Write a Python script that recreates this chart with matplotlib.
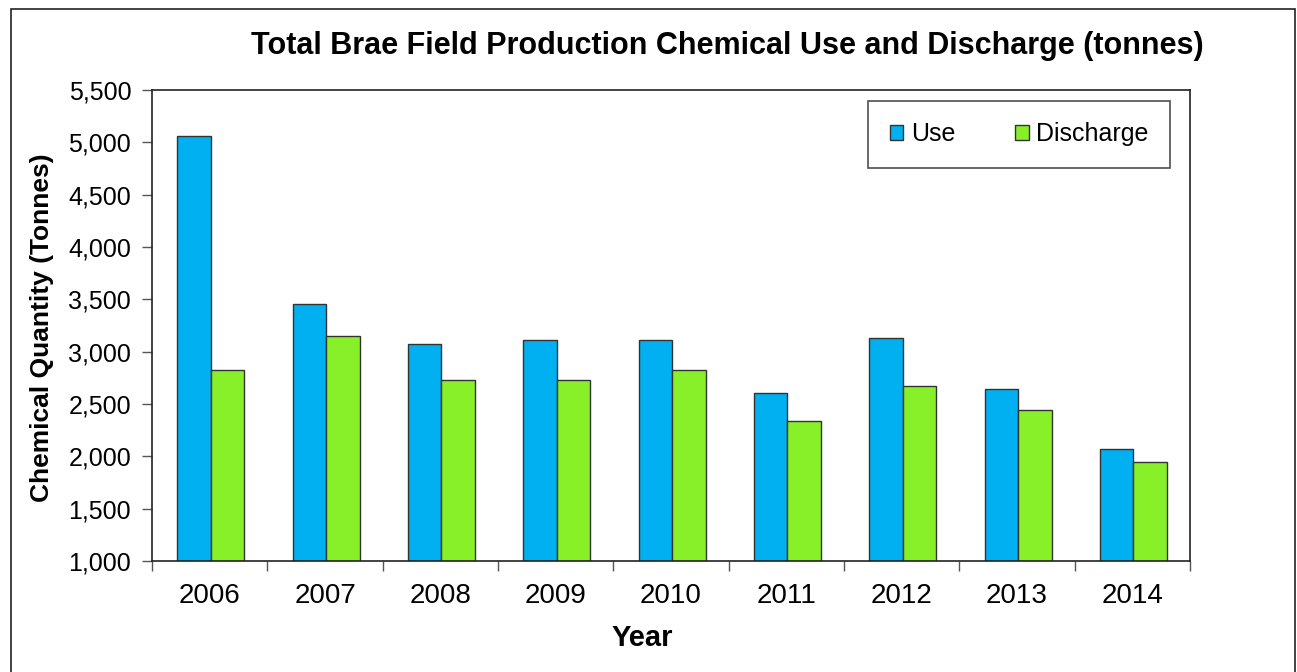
import matplotlib
matplotlib.use("Agg")
import matplotlib.pyplot as plt
import numpy as np
from matplotlib.patches import Rectangle
from matplotlib.ticker import FuncFormatter

# data
years = ['2006', '2007', '2008', '2009', '2010', '2011', '2012', '2013', '2014']
use = [5060, 3455, 3073, 3110, 3110, 2605, 3130, 2643, 2070]
discharge = [2825, 3150, 2730, 2730, 2825, 2340, 2670, 2443, 1946]

use_color = '#00B0F0'
discharge_color = '#88F028'

plt.rcParams['font.family'] = ['Liberation Sans', 'DejaVu Sans']

fig = plt.figure(figsize=(12.97, 6.72), dpi=100)
ax = fig.add_axes([152 / 1297, 1 - 561 / 672, (1190 - 152) / 1297, (561 - 90) / 672])

x = np.arange(len(years))
width = 0.29
ax.bar(x - width / 2 + 0.01, use, width, bottom=0, color=use_color,
       edgecolor='#333333', linewidth=1.0, label='Use')
ax.bar(x + width / 2 + 0.01, discharge, width, bottom=0, color=discharge_color,
       edgecolor='#333333', linewidth=1.0, label='Discharge')

ax.set_xlim(-0.5, len(years) - 0.5)
ax.set_ylim(1000, 5500)
ax.set_yticks(np.arange(1000, 5501, 500))
ax.yaxis.set_major_formatter(FuncFormatter(lambda v, p: f'{int(v):,}'))
ax.tick_params(axis='y', labelsize=18, length=7, width=1, color='#555555', pad=8)

# ticks between categories, labels at centres
ax.set_xticks(np.arange(-0.5, len(years), 1.0))
ax.set_xticklabels([])
ax.tick_params(axis='x', which='major', length=7, width=1, color='#555555')
ax.set_xticks(x, minor=True)
ax.set_xticklabels(years, minor=True)
ax.tick_params(axis='x', which='minor', length=0, labelsize=20, pad=16)

for s in ax.spines.values():
    s.set_color('#222222')
    s.set_linewidth(1.2)

ax.set_xlabel('Year', fontsize=21, fontweight='bold')
ax.xaxis.set_label_coords((642 - 152) / 1038, -(638 - 561) / 471, transform=ax.transAxes)
ax.xaxis.label.set_va('center')
ax.set_ylabel('Chemical Quantity (Tonnes)', fontsize=19, fontweight='bold',
              family=['Liberation Sans Narrow', 'Liberation Sans'])
ax.yaxis.set_label_coords(-(152 - 42) / 1038, (561 - 328) / 471, transform=ax.transAxes)
ax.yaxis.label.set_va('center')

fig.text(727 / 1297, 1 - 46 / 672, 'Total Brae Field Production Chemical Use and Discharge (tonnes)',
         ha='center', va='center', fontsize=22, fontweight='bold')

leg = ax.legend(loc='upper right', bbox_to_anchor=(1170 / 1297, 1 - 101 / 672),
                bbox_transform=fig.transFigure, ncol=2, fontsize=18, frameon=True,
                fancybox=False, edgecolor='#222222', handlelength=0.55, handleheight=0.55,
                handletextpad=0.3, columnspacing=2.4, borderpad=0.85, borderaxespad=0)
leg.get_frame().set_linewidth(1.2)

# outer border of the chart area
fig.patches.append(Rectangle((11 / 1297, -0.01), (1295 - 11) / 1297, 1 - 9 / 672 + 0.01,
                             transform=fig.transFigure, fill=False,
                             edgecolor='#222222', linewidth=1.2))

fig.savefig('out.png', dpi=100)
